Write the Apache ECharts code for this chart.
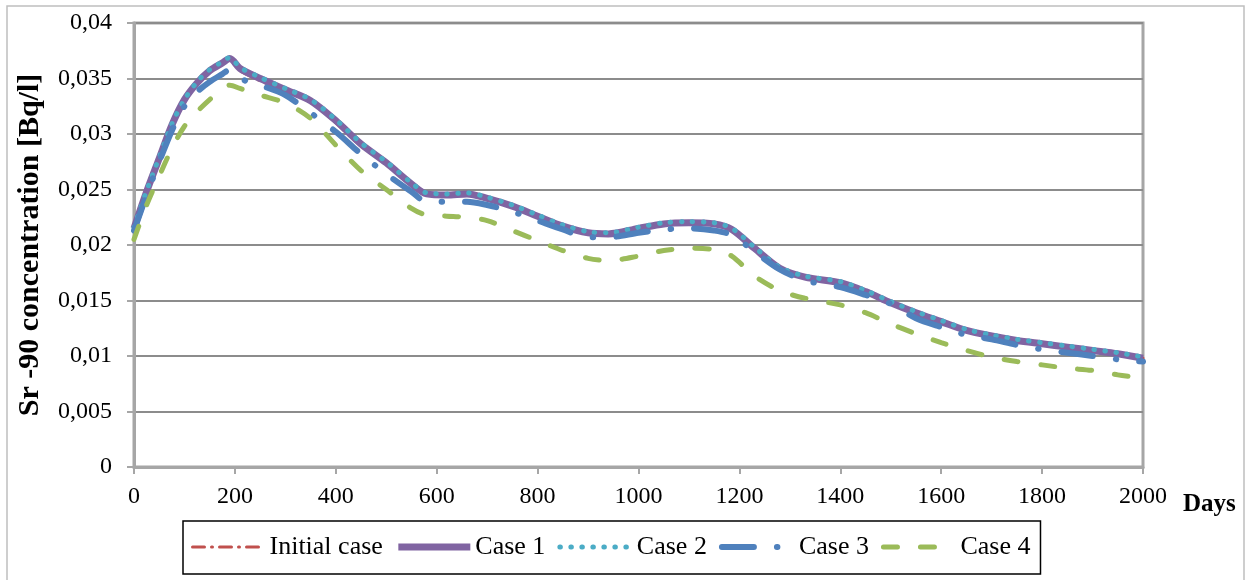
<!DOCTYPE html>
<html>
<head>
<meta charset="utf-8">
<title>Sr-90 concentration</title>
<script src="https://cdn.jsdelivr.net/npm/echarts@6/dist/echarts.min.js"></script>
<style>
  html, body { margin: 0; padding: 0; background: #fff; }
  #chart { width: 1246px; height: 580px; }
</style>
</head>
<body>
<div id="chart"></div>
<script>
/* ===== data ===== */
const days = [0, 25, 50, 75, 100, 125, 150, 175, 190, 210, 250, 300, 350, 400, 450, 500, 550, 580, 620, 660,
  700, 750, 800, 850, 900, 940, 1000, 1050, 1100, 1150, 1185, 1230, 1280, 1330, 1400, 1450, 1500, 1550,
  1600, 1650, 1700, 1750, 1800, 1850, 1900, 1950, 2000];

const initialCase = [0.0215, 0.0248, 0.0278, 0.0308, 0.0330, 0.0345, 0.0356, 0.0363, 0.0367, 0.0357, 0.0348,
  0.0339, 0.0329, 0.0310, 0.0289, 0.0273, 0.0254, 0.0246, 0.0245, 0.0246, 0.0242, 0.0235, 0.0226, 0.0217,
  0.0211, 0.0210, 0.0215, 0.0219, 0.0220, 0.0219, 0.0214, 0.0197, 0.0179, 0.0171, 0.0166, 0.0158, 0.0148,
  0.0139, 0.0131, 0.0123, 0.0118, 0.0114, 0.0111, 0.0108, 0.0105, 0.0102, 0.0098];

const case1 = [0.0215, 0.0248, 0.0278, 0.0308, 0.0331, 0.0346, 0.0357, 0.0364, 0.0368, 0.0359, 0.0350,
  0.0340, 0.0330, 0.0312, 0.0291, 0.0274, 0.0255, 0.0246, 0.0245, 0.0246, 0.0242, 0.0235, 0.0226, 0.0217,
  0.0211, 0.0210, 0.0215, 0.0219, 0.0220, 0.0219, 0.0214, 0.0197, 0.0179, 0.0171, 0.0166, 0.0158, 0.0148,
  0.0139, 0.0131, 0.0123, 0.0118, 0.0114, 0.0111, 0.0108, 0.0105, 0.0102, 0.0098];

const case2 = [0.0216, 0.0249, 0.0279, 0.0309, 0.0331, 0.0347, 0.0358, 0.0365, 0.0369, 0.0360, 0.0351,
  0.0341, 0.0331, 0.0313, 0.0292, 0.0275, 0.0256, 0.0247, 0.0246, 0.0247, 0.0243, 0.0236, 0.0227, 0.0218,
  0.0212, 0.0211, 0.0216, 0.0220, 0.0221, 0.0220, 0.0215, 0.0198, 0.0180, 0.0172, 0.0167, 0.0159, 0.0149,
  0.0140, 0.0132, 0.0124, 0.0119, 0.0115, 0.0112, 0.0109, 0.0106, 0.0103, 0.0099];

const case3 = [0.0213, 0.0245, 0.0275, 0.0303, 0.0325, 0.0338, 0.0347, 0.0354, 0.0358, 0.0350, 0.0344,
  0.0335, 0.0319, 0.0302, 0.0282, 0.0264, 0.0248, 0.0239, 0.0239, 0.0239, 0.0236, 0.0230, 0.0222, 0.0214,
  0.0207, 0.0207, 0.0211, 0.0214, 0.0215, 0.0213, 0.0209, 0.0194, 0.0178, 0.0168, 0.0162, 0.0155, 0.0147,
  0.0134, 0.0126, 0.0119, 0.0115, 0.0110, 0.0106, 0.0103, 0.0100, 0.0097, 0.0095];

const case4 = [0.0205, 0.0236, 0.0262, 0.0287, 0.0307, 0.0320, 0.0331, 0.0340, 0.0344, 0.0341, 0.0335,
  0.0328, 0.0314, 0.0290, 0.0267, 0.0250, 0.0233, 0.0227, 0.0226, 0.0225, 0.0222, 0.0213, 0.0204, 0.0195,
  0.0188, 0.0186, 0.0190, 0.0195, 0.0197, 0.0196, 0.0190, 0.0172, 0.0159, 0.0152, 0.0146, 0.0139, 0.0129,
  0.0120, 0.0112, 0.0105, 0.0099, 0.0095, 0.0092, 0.0089, 0.0087, 0.0083, 0.0080];

const seriesNames = ["Initial case", "Case 1", "Case 2", "Case 3", "Case 4"];

/* ===== helpers ===== */
const pairs = (ys) => days.map((d, i) => [d, ys[i]]);
const fmt = (v) => String(v).replace(".", ",");
const FONT = "'Liberation Serif', 'Times New Roman', serif";

const chart = echarts.init(document.getElementById("chart"));

chart.setOption({
  animation: false,
  backgroundColor: "#fff",
  textStyle: { fontFamily: FONT, color: "#000" },

  grid: {
    left: 134, right: 103, top: 23, bottom: 113,
    show: true,
    borderColor: "#a6a6a6",
    borderWidth: 3,
  },

  legend: {
    left: 183,
    top: 521,
    padding: [13, 10, 14, 8],
    itemGap: 12,
    itemWidth: 72,
    itemHeight: 14,
    borderColor: "#000",
    borderWidth: 1.5,
    itemStyle: { opacity: 0 },
    lineStyle: { width: "inherit" },
    textStyle: { fontFamily: FONT, fontSize: 26, color: "#000" },
    data: seriesNames,
  },

  xAxis: {
    type: "value",
    min: 0,
    max: 2000,
    interval: 200,
    axisLine: { lineStyle: { color: "#a6a6a6", width: 3 } },
    axisTick: { show: true, length: 7, lineStyle: { color: "#a6a6a6", width: 2 } },
    axisLabel: { fontFamily: FONT, fontSize: 24, color: "#000", margin: 18, formatter: (v) => String(v) },
    splitLine: { show: false },
  },

  yAxis: {
    type: "value",
    min: 0,
    max: 0.04,
    interval: 0.005,
    name: "Sr -90 concentration [Bq/l]",
    nameLocation: "middle",
    nameGap: 89,
    nameRotate: 90,
    nameTextStyle: { fontFamily: FONT, fontSize: 30, fontWeight: "bold", color: "#000" },
    axisLine: { show: true, lineStyle: { color: "#a6a6a6", width: 3 } },
    axisTick: { show: true, length: 7, lineStyle: { color: "#a6a6a6", width: 2 } },
    axisLabel: { fontFamily: FONT, fontSize: 24, color: "#000", margin: 22, formatter: fmt },
    splitLine: { show: true, lineStyle: { color: "#8c8c8c", width: 2 } },
  },

  graphic: [
    {
      type: "rect",
      shape: { x: 7, y: 6, width: 1237, height: 600 },
      style: { fill: "none", stroke: "#bfbfbf", lineWidth: 1.5 },
      silent: true,
      z: -10,
    },
    {
      type: "text",
      left: 1183,
      top: 492,
      style: { text: "Days", font: "bold 25px " + FONT, fill: "#000" },
    },
  ],

  series: [
    {
      name: seriesNames[0],
      type: "line",
      data: pairs(initialCase),
      smooth: 0.3,
      showSymbol: false,
      symbol: "none",
      color: "#c0504d",
      lineStyle: { color: "#c0504d", width: 3, type: [12, 7, 1, 7], cap: "round" },
    },
    {
      name: seriesNames[1],
      type: "line",
      data: pairs(case1),
      smooth: 0.3,
      showSymbol: false,
      symbol: "none",
      color: "#8064a2",
      lineStyle: { color: "#8064a2", width: 7 },
    },
    {
      name: seriesNames[2],
      type: "line",
      data: pairs(case2),
      smooth: 0.3,
      showSymbol: false,
      symbol: "none",
      color: "#4bacc6",
      lineStyle: { color: "#4bacc6", width: 5, type: [0.5, 10.5], cap: "round" },
    },
    {
      name: seriesNames[3],
      type: "line",
      data: pairs(case3),
      smooth: 0.3,
      showSymbol: false,
      symbol: "none",
      color: "#4f81bd",
      lineStyle: { color: "#4f81bd", width: 6, type: [32, 23, 0.5, 23], cap: "round" },
    },
    {
      name: seriesNames[4],
      type: "line",
      data: pairs(case4),
      smooth: 0.3,
      showSymbol: false,
      symbol: "none",
      color: "#9bbb59",
      lineStyle: { color: "#9bbb59", width: 5, type: [14, 23], cap: "round" },
    },
  ],
});
</script>
</body>
</html>
